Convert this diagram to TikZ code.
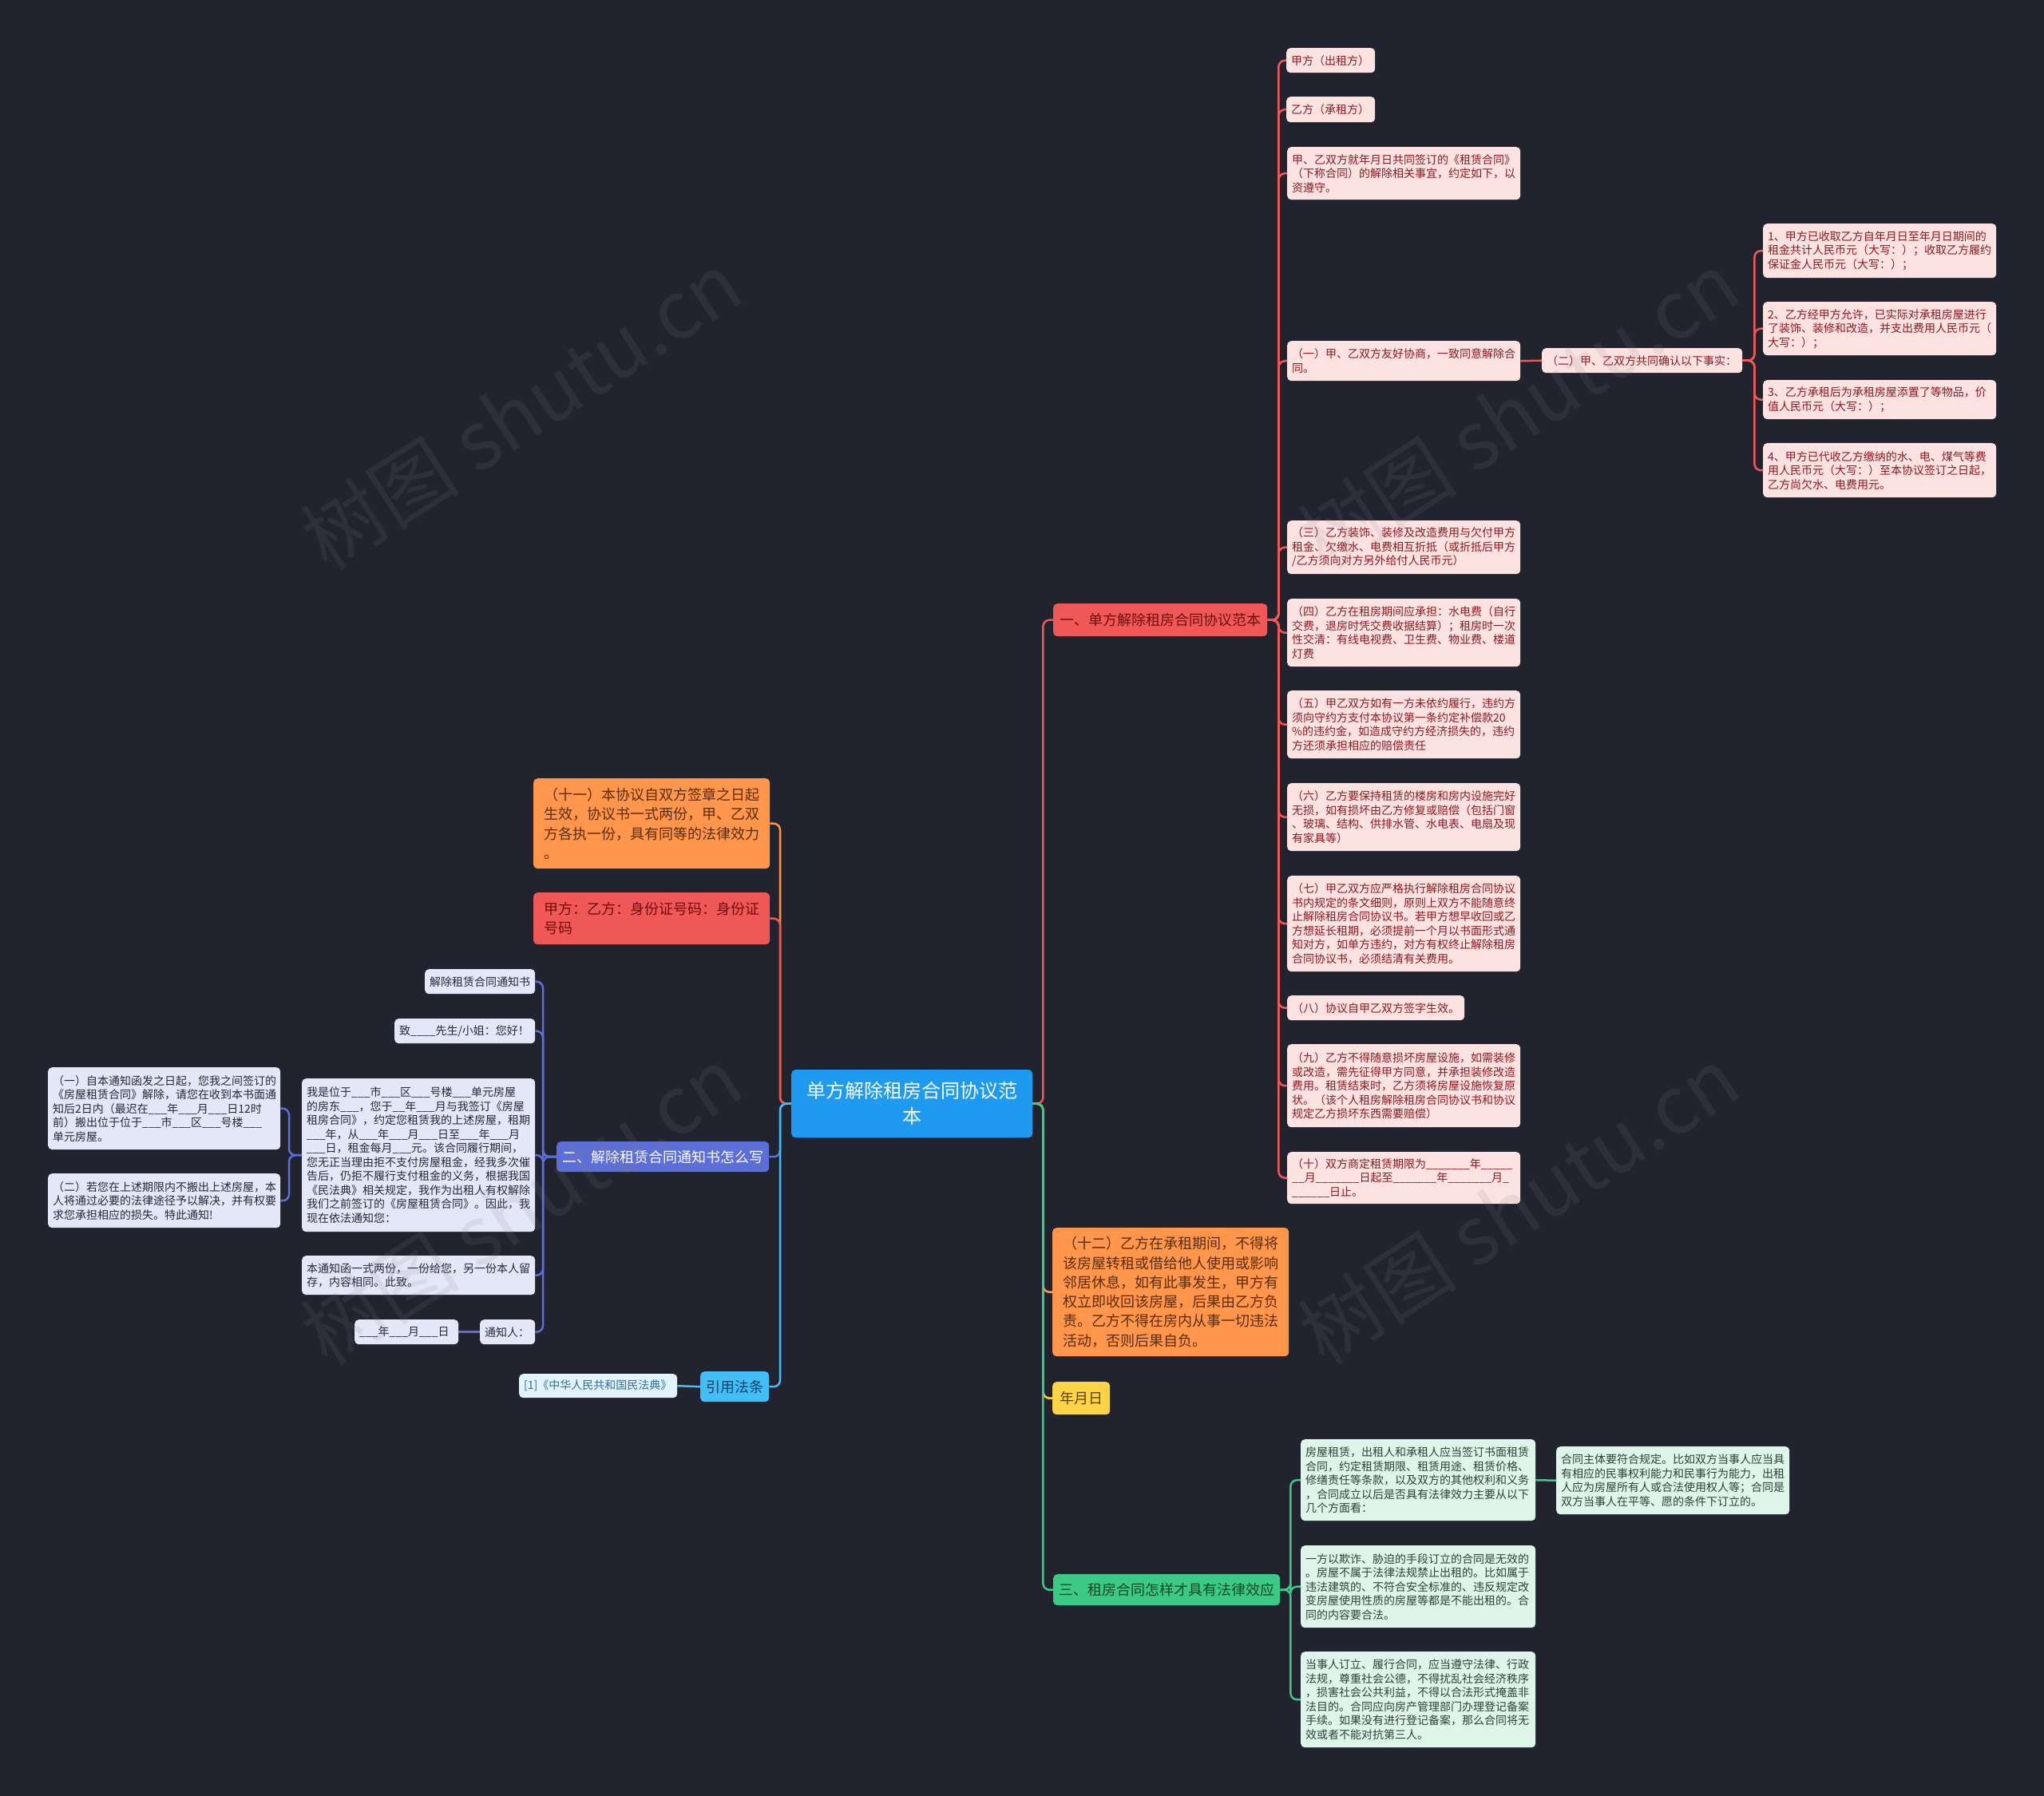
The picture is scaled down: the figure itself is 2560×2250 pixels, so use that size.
\documentclass[tikz,border=0pt]{standalone}
\usepackage{fontspec}
\setmainfont{Noto Sans CJK SC}
\newcommand\fsz[2]{\fontsize{#1pt}{#2pt}\selectfont}
\definecolor{bg}{RGB}{33,36,47}
\definecolor{rleafF}{RGB}{253,226,226}
\definecolor{rleafT}{RGB}{140,25,30}
\definecolor{pleafF}{RGB}{228,231,248}
\definecolor{pleafT}{RGB}{40,40,60}
\definecolor{gleafF}{RGB}{222,245,234}
\definecolor{gleafT}{RGB}{45,65,55}
\definecolor{cleafF}{RGB}{226,243,252}
\definecolor{cleafT}{RGB}{40,110,170}
\definecolor{cRed}{RGB}{240,88,88}
\definecolor{cRedT}{RGB}{110,15,15}
\definecolor{cOra}{RGB}{255,150,75}
\definecolor{cOraT}{RGB}{90,45,10}
\definecolor{cYel}{RGB}{252,212,70}
\definecolor{cYelT}{RGB}{90,65,0}
\definecolor{cGrn}{RGB}{60,200,135}
\definecolor{cGrnT}{RGB}{20,70,40}
\definecolor{cPur}{RGB}{92,110,215}
\definecolor{cCya}{RGB}{65,190,245}
\definecolor{cCyaT}{RGB}{20,60,100}
\definecolor{cRoot}{RGB}{30,155,240}
\tikzset{
  box/.style={anchor=north west, rounded corners=5pt, inner ysep=0pt, align=left},
  rleaf/.style={box, fill=rleafF, text=rleafT, font=\fsz{14}{17.5}},
  pleaf/.style={box, fill=pleafF, text=pleafT, font=\fsz{14}{17.5}},
  gleaf/.style={box, fill=gleafF, text=gleafT, font=\fsz{14}{17.5}},
  cleaf/.style={box, fill=cleafF, text=cleafT, font=\fsz{14}{17.5}},
  bigb/.style={box, font=\fsz{18}{24.3}},
  ln/.style={line width=2.5pt, rounded corners=8pt},
  lnR/.style={ln, draw=cRed},
  lnO/.style={ln, draw=cOra},
  lnY/.style={ln, draw=cYel},
  lnG/.style={ln, draw=cGrn},
  lnP/.style={ln, draw=cPur},
  lnC/.style={ln, draw=cCya},
  wm/.style={text=gray, opacity=0.13, font=\fsz{100}{100}, rotate=33}
}
% blanks of 2,3,6,7 underscores
\newcommand\uu{\_\_}
\newcommand\uuu{\_\_\_}
\newcommand\usix{\_\_\_\_\_\_}
\newcommand\usev{\_\_\_\_\_\_\_}
% name, style, x, y, w, h, text  (padding 6)
\newcommand\nd[7]{\pgfmathsetmacro\tw{#5-12}%
  \node[#2, inner xsep=6pt, minimum width=#5pt, minimum height=#6pt, text width=\tw pt] (#1) at (#3,#4) {#7};}
% name, style, x, y, w, h, pad, text
\newcommand\ndb[8]{\pgfmathsetmacro\tw{#5-2*#7}%
  \node[#2, inner xsep=#7pt, minimum width=#5pt, minimum height=#6pt, text width=\tw pt] (#1) at (#3,#4) {#8};}
\begin{document}
\begin{tikzpicture}[x=1pt,y=-1pt]
\useasboundingbox (0,0) rectangle (2560,2250);
\fill[bg] (0,0) rectangle (2560,2250);

% root
\ndb{root}{box, fill=cRoot, text=white, font=\fsz{24}{32}, align=center}{991}{1340}{302}{85}{10}{单方解除租房合同协议范\\本}

% right branches
\ndb{b1}{bigb, fill=cRed, text=cRedT, align=center}{1319}{756}{268}{41}{6}{一、单方解除租房合同协议范本}
\ndb{b2}{bigb, fill=cOra, text=cOraT}{1318}{1538}{296}{161}{13}{（十二）乙方在承租期间，不得将\\该房屋转租或借给他人使用或影响\\邻居休息，如有此事发生，甲方有\\权立即收回该房屋，后果由乙方负\\责。乙方不得在房内从事一切违法\\活动，否则后果自负。}
\ndb{b3}{bigb, fill=cYel, text=cYelT, align=center}{1318}{1731}{72}{41}{6}{年月日}
\ndb{b4}{bigb, fill=cGrn, text=cGrnT, align=center}{1319}{1972}{284}{39}{6}{三、租房合同怎样才具有法律效应}

% left branches
\ndb{L1}{bigb, fill=cOra, text=cOraT}{668}{975}{296}{113}{13}{（十一）本协议自双方签章之日起\\生效，协议书一式两份，甲、乙双\\方各执一份，具有同等的法律效力\\。}
\ndb{L2}{bigb, fill=cRed, text=cRedT}{668}{1118}{296}{65}{13}{甲方：乙方：身份证号码：身份证\\号码}
\ndb{L3}{bigb, fill=cPur, text=white, align=center}{697}{1430}{266}{38}{6}{二、解除租赁合同通知书怎么写}
\ndb{L4}{bigb, fill=cCya, text=cCyaT, align=center}{877}{1718}{86}{38}{6}{引用法条}

% red leaves
\nd{r1}{rleaf}{1611}{60}{111}{31}{甲方（出租方）}
\nd{r2}{rleaf}{1611}{121}{111}{32}{乙方（承租方）}
\nd{r3}{rleaf}{1612}{184}{292}{66}{甲、乙双方就年月日共同签订的《租赁合同》\\（下称合同）的解除相关事宜，约定如下，以\\资遵守。}
\nd{r4}{rleaf}{1612}{427}{292}{50}{（一）甲、乙双方友好协商，一致同意解除合\\同。}
\nd{r5}{rleaf}{1931}{436}{251}{31}{（二）甲、乙双方共同确认以下事实：}
\nd{r6}{rleaf}{2208}{280}{292}{68}{1、甲方已收取乙方自年月日至年月日期间的\\租金共计人民币元（大写：）；收取乙方履约\\保证金人民币元（大写：）；}
\nd{r7}{rleaf}{2208}{378}{292}{67}{2、乙方经甲方允许，已实际对承租房屋进行\\了装饰、装修和改造，并支出费用人民币元（\\大写：）；}
\nd{r8}{rleaf}{2208}{476}{292}{49}{3、乙方承租后为承租房屋添置了等物品，价\\值人民币元（大写：）；}
\nd{r9}{rleaf}{2208}{555}{292}{68}{4、甲方已代收乙方缴纳的水、电、煤气等费\\用人民币元（大写：）至本协议签订之日起，\\乙方尚欠水、电费用元。}
\nd{r10}{rleaf}{1612}{652}{292}{67}{（三）乙方装饰、装修及改造费用与欠付甲方\\租金、欠缴水、电费相互折抵（或折抵后甲方\\/乙方须向对方另外给付人民币元）}
\nd{r11}{rleaf}{1612}{750}{292}{85}{（四）乙方在租房期间应承担：水电费（自行\\交费，退房时凭交费收据结算）；租房时一次\\性交清：有线电视费、卫生费、物业费、楼道\\灯费}
\nd{r12}{rleaf}{1612}{865}{292}{85}{（五）甲乙双方如有一方未依约履行，违约方\\须向守约方支付本协议第一条约定补偿款20\\\%的违约金，如造成守约方经济损失的，违约\\方还须承担相应的赔偿责任}
\nd{r13}{rleaf}{1612}{981}{292}{85}{（六）乙方要保持租赁的楼房和房内设施完好\\无损，如有损坏由乙方修复或赔偿（包括门窗\\、玻璃、结构、供排水管、水电表、电扇及现\\有家具等）}
\nd{r14}{rleaf}{1612}{1097}{292}{120}{（七）甲乙双方应严格执行解除租房合同协议\\书内规定的条文细则，原则上双方不能随意终\\止解除租房合同协议书。若甲方想早收回或乙\\方想延长租期，必须提前一个月以书面形式通\\知对方，如单方违约，对方有权终止解除租房\\合同协议书，必须结清有关费用。}
\nd{r15}{rleaf}{1612}{1247}{222}{31}{（八）协议自甲乙双方签字生效。}
\nd{r16}{rleaf}{1612}{1308}{292}{104}{（九）乙方不得随意损坏房屋设施，如需装修\\或改造，需先征得甲方同意，并承担装修改造\\费用。租赁结束时，乙方须将房屋设施恢复原\\状。（该个人租房解除租房合同协议书和协议\\规定乙方损坏东西需要赔偿）}
\nd{r17}{rleaf}{1612}{1443}{292}{65}{（十）双方商定租赁期限为\usev 年\_\_\_\_\_\\\uu 月\usev 日起至\usev 年\usev 月\_\\\usix 日止。}

% purple leaves
\nd{p1}{pleaf}{532}{1214}{138}{31}{解除租赁合同通知书}
\nd{p2}{pleaf}{494}{1276}{176}{31}{致\_\_\_\_先生/小姐：您好！}
\nd{p3}{pleaf}{378}{1351}{292}{192}{我是位于\uuu 市\uuu 区\uuu 号楼\uuu 单元房屋\\的房东\uuu ，您于\uu 年\uuu 月与我签订《房屋\\租房合同》，约定您租赁我的上述房屋，租期\\\uuu 年，从\uuu 年\uuu 月\uuu 日至\uuu 年\uuu 月\\\uuu 日，租金每月\uuu 元。该合同履行期间，\\您无正当理由拒不支付房屋租金，经我多次催\\告后，仍拒不履行支付租金的义务，根据我国\\《民法典》相关规定，我作为出租人有权解除\\我们之前签订的《房屋租赁合同》。因此，我\\现在依法通知您：}
\nd{p4}{pleaf}{378}{1573}{292}{49}{本通知函一式两份，一份给您，另一份本人留\\存，内容相同。此致。}
\nd{p5}{pleaf}{601}{1653}{69}{31}{通知人：}
\nd{p6}{pleaf}{444}{1653}{130}{31}{\uuu 年\uuu 月\uuu 日}
\nd{p7}{pleaf}{60}{1337}{291}{103}{（一）自本通知函发之日起，您我之间签订的\\《房屋租赁合同》解除，请您在收到本书面通\\知后2日内（最迟在\uuu 年\uuu 月\uuu 日12时\\前）搬出位于位于\uuu 市\uuu 区\uuu 号楼\uuu \\单元房屋。}
\nd{p8}{pleaf}{60}{1470}{291}{68}{（二）若您在上述期限内不搬出上述房屋，本\\人将通过必要的法律途径予以解决，并有权要\\求您承担相应的损失。特此通知!}

% cyan leaf
\nd{c1}{cleaf}{650}{1721}{198}{30}{[1]《中华人民共和国民法典》}

% green leaves
\nd{g1}{gleaf}{1629}{1803}{294}{102}{房屋租赁，出租人和承租人应当签订书面租赁\\合同，约定租赁期限、租赁用途、租赁价格、\\修缮责任等条款，以及双方的其他权利和义务\\，合同成立以后是否具有法律效力主要从以下\\几个方面看：}
\nd{g2}{gleaf}{1949}{1812}{292}{85}{合同主体要符合规定。比如双方当事人应当具\\有相应的民事权利能力和民事行为能力，出租\\人应为房屋所有人或合法使用权人等；合同是\\双方当事人在平等、愿的条件下订立的。}
\nd{g3}{gleaf}{1629}{1936}{294}{103}{一方以欺诈、胁迫的手段订立的合同是无效的\\。房屋不属于法律法规禁止出租的。比如属于\\违法建筑的、不符合安全标准的、违反规定改\\变房屋使用性质的房屋等都是不能出租的。合\\同的内容要合法。}
\nd{g4}{gleaf}{1629}{2069}{294}{120}{当事人订立、履行合同，应当遵守法律、行政\\法规，尊重社会公德，不得扰乱社会经济秩序\\，损害社会公共利益，不得以合法形式掩盖非\\法目的。合同应向房产管理部门办理登记备案\\手续。如果没有进行登记备案，那么合同将无\\效或者不能对抗第三人。}

% connectors: root
\draw[lnR] (root.east) -- ++(13,0) |- (b1.west);
\draw[lnO] (root.east) -- ++(13,0) |- (b2.west);
\draw[lnY] (root.east) -- ++(13,0) |- (b3.west);
\draw[lnG] (root.east) -- ++(13,0) |- (b4.west);
\draw[lnO] (root.west) -- ++(-14,0) |- (L1.east);
\draw[lnR] (root.west) -- ++(-14,0) |- (L2.east);
\draw[lnP] (root.west) -- ++(-14,0) |- (L3.east);
\draw[lnC] (root.west) -- ++(-14,0) |- (L4.east);

% red
\foreach \n in {r1,r2,r3,r4,r10,r11,r12,r13,r14,r15,r16,r17}
  \draw[lnR] (b1.east) -- ++(14,0) |- (\n.west);
\draw[lnR] (r4.east) -- (r5.west);
\foreach \n in {r6,r7,r8,r9}
  \draw[lnR] (r5.east) -- ++(15,0) |- (\n.west);

% purple
\foreach \n in {p1,p2,p3,p4,p5}
  \draw[lnP] (L3.west) -- ++(-17,0) |- (\n.east);
\draw[lnP] (p5.west) -- (p6.east);
\foreach \n in {p7,p8}
  \draw[lnP] (p3.west) -- ++(-16,0) |- (\n.east);

% cyan
\draw[lnC] (L4.west) -- (c1.east);

% green
\foreach \n in {g1,g3,g4}
  \draw[lnG] (b4.east) -- ++(13,0) |- (\n.west);
\draw[lnG] (g1.east) -- (g2.west);

% watermarks
\node[wm] (w1) at (653,514) {树图 shutu.cn};
\node[wm] (w2) at (1902,514) {树图 shutu.cn};
\node[wm] (w3) at (653,1510) {树图 shutu.cn};
\node[wm] (w4) at (1902,1510) {树图 shutu.cn};
\end{tikzpicture}
\end{document}
